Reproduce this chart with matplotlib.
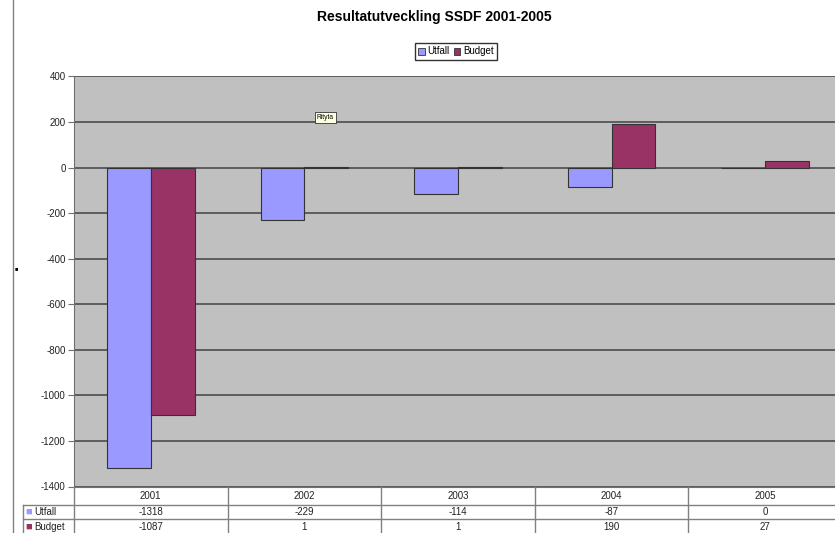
import numpy as np
import matplotlib
matplotlib.use("Agg")
import matplotlib.pyplot as plt
from matplotlib.patches import Patch
from matplotlib.transforms import blended_transform_factory

plt.rcParams['font.family'] = ['Liberation Sans', 'DejaVu Sans']

years = ["2001", "2002", "2003", "2004", "2005"]
utfall = [-1318, -229, -114, -87, 0]
budget = [-1087, 1, 1, 190, 27]
yticks = [-1400, -1200, -1000, -800, -600, -400, -200, 0, 200, 400]

W, H = 835, 533
fig = plt.figure(figsize=(W / 100, H / 100), dpi=100)

# plot area in pixel terms (it runs past the right edge of the picture)
left, top, bottom, cat_w = 74, 76.5, 486.5, 153.6
ax = fig.add_axes([left / W, 1 - bottom / H, 5 * cat_w / W, (bottom - top) / H])
ax.set_facecolor("#C0C0C0")

x = np.arange(len(years))
bw = 1 / 3.5
ax.bar(x - bw / 2, utfall, bw, color="#9999FF", edgecolor="#333333", linewidth=0.8, zorder=3)
ax.bar(x + bw / 2, budget, bw, color="#993366", edgecolor="#333333", linewidth=0.8, zorder=3)

ax.set_xlim(-0.5, len(years) - 0.5)
ax.set_ylim(-1400, 400)
ax.set_yticks(yticks)
ax.set_yticklabels([str(v) for v in yticks], fontsize=7, color="#222222")
ax.set_xticks([])
ax.grid(axis="y", color="#555555", linewidth=1.3, zorder=1)
for s in ["top", "right"]:
    ax.spines[s].set_visible(False)
ax.spines["left"].set_color("#707070")
ax.spines["bottom"].set_color("#707070")
ax.tick_params(axis="y", length=4, color="#707070", pad=2)

fig.text(434 / W, 1 - 17 / H, "Resultatutveckling SSDF 2001-2005", ha="center", va="center",
         fontsize=10, fontweight="bold")

handles = [Patch(facecolor="#9999FF", edgecolor="#333333", linewidth=0.6),
           Patch(facecolor="#993366", edgecolor="#333333", linewidth=0.6)]
fig.legend(handles, ["Utfall", "Budget"], loc="center", bbox_to_anchor=(456 / W, 1 - 51.5 / H),
           ncol=2, fontsize=7, frameon=True, fancybox=False, edgecolor="#333333",
           handlelength=0.7, handleheight=0.7, handletextpad=0.3, columnspacing=0.4,
           borderpad=0.35, framealpha=1)

# Data table under the plot
tr = blended_transform_factory(ax.transData, fig.transFigure)
trf = fig.transFigure
def fy(py):
    return 1 - py / H

line_kw = dict(color="#808080", linewidth=1.0, clip_on=False)
row_y = [505, 519]
for ry in row_y:
    fig.add_artist(plt.Line2D([23 / W, 1.1], [fy(ry), fy(ry)], transform=trf, **line_kw))
fig.add_artist(plt.Line2D([23 / W, 23 / W], [fy(505), fy(540)], transform=trf, **line_kw))
for b in np.arange(len(years) + 1) - 0.5:
    fig.add_artist(plt.Line2D([b, b], [fy(486.5), fy(540)], transform=tr, **line_kw))

for i, yr in enumerate(years):
    fig.text(i, fy(496), yr, transform=tr, ha="center", va="center", fontsize=7, color="#222222")
    fig.text(i, fy(512), str(utfall[i]), transform=tr, ha="center", va="center", fontsize=7, color="#222222")
    fig.text(i, fy(526.5), str(budget[i]), transform=tr, ha="center", va="center", fontsize=7, color="#222222")

for label, col, py in [("Utfall", "#9999FF", 512), ("Budget", "#993366", 526.5)]:
    fig.text(25 / W, fy(py), "\u25A0", color=col, ha="left", va="center", fontsize=8)
    fig.text(34 / W, fy(py), label, ha="left", va="center", fontsize=7, color="#222222")

# tooltip left on the screenshot
fig.text(325 / W, fy(117.5), "Rityta", ha="center", va="center", fontsize=4.8,
         bbox=dict(boxstyle="square,pad=0.3", facecolor="#FFFFE1", edgecolor="#333333", linewidth=0.6))

# worksheet edge and selection handle
fig.add_artist(plt.Line2D([13 / W, 13 / W], [0, 1], transform=trf, color="#808080", linewidth=1.0))
fig.text(16 / W, fy(269), "\u25A0", ha="center", va="center", fontsize=4, color="black")

fig.savefig("out.png", dpi=100)
